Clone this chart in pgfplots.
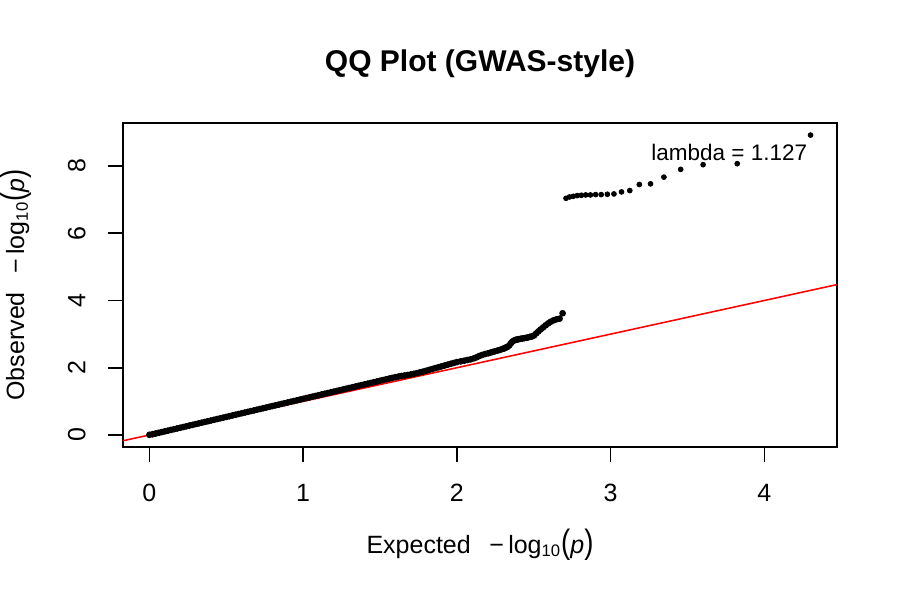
\documentclass[border=0pt]{standalone}
\usepackage{fontspec}
\setmainfont{Liberation Sans}
\usepackage{graphicx}
\usepackage{pgfplots}
\pgfplotsset{compat=1.18}

% -log10(p) with a subscript base and tall parentheses
\newcommand{\nlogp}{\mbox{−\hspace{2pt}log\textsubscript{10}\scalebox{1.1}[1.35]{(}\textit{p}\scalebox{1.1}[1.35]{)}}}

% Observed vs. expected -log10(p), bulk of the SNPs
\pgfplotstableread{
x y
0.00 0.005
0.02 0.022
0.04 0.043
0.06 0.064
0.08 0.086
0.10 0.108
0.12 0.129
0.14 0.151
0.16 0.172
0.18 0.194
0.20 0.215
0.22 0.237
0.24 0.258
0.26 0.280
0.28 0.301
0.30 0.323
0.32 0.344
0.34 0.366
0.36 0.387
0.38 0.409
0.40 0.430
0.42 0.452
0.44 0.473
0.46 0.495
0.48 0.516
0.50 0.538
0.52 0.559
0.54 0.581
0.56 0.602
0.58 0.624
0.60 0.645
0.62 0.667
0.64 0.688
0.66 0.710
0.68 0.731
0.70 0.753
0.72 0.774
0.74 0.796
0.76 0.817
0.78 0.839
0.80 0.860
0.82 0.882
0.84 0.903
0.86 0.925
0.88 0.946
0.90 0.968
0.92 0.989
0.94 1.011
0.96 1.032
0.98 1.054
1.00 1.075
1.02 1.097
1.04 1.118
1.06 1.140
1.08 1.161
1.10 1.183
1.12 1.204
1.14 1.226
1.16 1.247
1.18 1.269
1.20 1.290
1.22 1.312
1.24 1.333
1.26 1.355
1.28 1.376
1.30 1.398
1.32 1.419
1.34 1.441
1.36 1.462
1.38 1.484
1.40 1.505
1.42 1.527
1.44 1.548
1.46 1.570
1.48 1.591
1.50 1.613
1.52 1.634
1.54 1.656
1.56 1.677
1.58 1.699
1.60 1.720
1.62 1.738
1.64 1.755
1.66 1.770
1.68 1.785
1.70 1.800
1.72 1.820
1.74 1.840
1.76 1.862
1.78 1.885
1.80 1.910
1.82 1.937
1.84 1.963
1.86 1.990
1.88 2.015
1.90 2.040
1.92 2.066
1.94 2.092
1.96 2.118
1.98 2.144
2.00 2.168
2.025 2.19
2.048 2.21
2.068 2.23
2.089 2.25
2.111 2.28
2.128 2.31
2.146 2.35
2.164 2.38
2.184 2.41
2.204 2.43
2.218 2.45
2.233 2.47
2.248 2.49
2.264 2.51
2.280 2.53
2.297 2.56
2.305 2.57
2.314 2.59
2.323 2.61
2.332 2.63
2.342 2.67
2.352 2.73
2.362 2.78
2.372 2.81
2.382 2.83
2.392 2.84
2.403 2.85
2.414 2.86
2.426 2.87
2.438 2.88
2.450 2.89
2.462 2.90
2.475 2.92
2.488 2.93
2.502 2.96
2.516 3.02
2.530 3.08
2.545 3.14
2.561 3.20
2.577 3.26
2.594 3.32
2.611 3.37
2.629 3.41
2.648 3.44
2.668 3.46
2.688 3.62
}\bulk

% The strongest signals
\pgfplotstableread{
x y
4.301 8.92
3.824 8.07
3.602 8.04
3.456 7.90
3.347 7.67
3.260 7.47
3.187 7.45
3.125 7.27
3.071 7.23
3.022 7.17
2.979 7.16
2.939 7.15
2.903 7.15
2.869 7.14
2.838 7.14
2.810 7.13
2.783 7.12
2.757 7.10
2.733 7.08
2.710 7.04
}\hits

\begin{document}
\begin{tikzpicture}
\useasboundingbox (-59.04pt,-73.44pt) rectangle (372.96pt,214.56pt);
\begin{axis}[
  at={(0pt,0pt)}, anchor=south west,
  scale only axis, width=342.72pt, height=155.52pt,
  xmin=-0.172, xmax=4.473, ymin=-0.357, ymax=9.28,
  axis line style={line width=0.75pt, black},
  xtick={0,1,2,3,4}, ytick={0,2,4,6,8},
  xtick pos=lower, ytick pos=left,
  tick align=outside, major tick length=7.2pt,
  every tick/.style={black, line width=0.75pt},
  /pgf/number format/assume math mode=true,
  ticklabel style={font=\fontsize{12}{14}\selectfont, inner sep=0pt},
  xticklabel style={anchor=north},
  xticklabel shift=10.5pt,
  yticklabel style={rotate=90, anchor=south},
  yticklabel shift=10.6pt,
  title={QQ Plot (GWAS-style)},
  title style={at={([yshift=18.5pt]axis description cs:0.5,1)}, anchor=base,
    inner sep=0pt, font=\fontsize{14.4}{17}\selectfont\bfseries},
  xlabel={Expected\hspace{9pt}\nlogp},
  xlabel style={at={([yshift=-50.9pt]axis description cs:0.5,0)}, anchor=base,
    inner sep=0pt, font=\fontsize{12}{14}\selectfont},
  ylabel={Observed\hspace{9pt}\nlogp},
  ylabel style={at={([xshift=-47.5pt]axis description cs:0,0.5)}, anchor=base,
    inner sep=0pt, font=\fontsize{12}{14}\selectfont},
]
\addplot[only marks, mark=*, mark size=1.4pt, mark options={fill=black, draw=none}] table[x=x, y=y] {\bulk};
\addplot[only marks, mark=*, mark size=1.15pt, mark options={fill=black, draw=none}] table[x=x, y=y] {\hits};
% reference line y = x
\addplot[red, line width=0.75pt] coordinates {(-0.172,-0.172) (4.473,4.473)};
\node[anchor=base, inner sep=0pt, font=\fontsize{10.8}{13}\selectfont] at (axis cs:3.772,8.175) {lambda = 1.127};
\end{axis}
\end{tikzpicture}
\end{document}
